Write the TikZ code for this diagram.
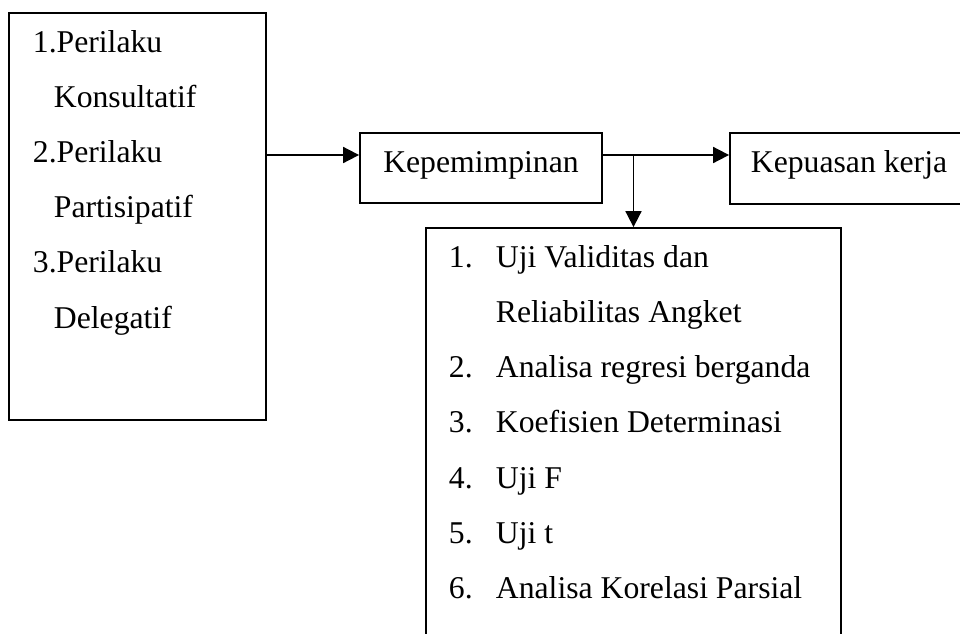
\documentclass[tikz,border=0pt]{standalone}
\usepackage{fontspec}
\setmainfont{Liberation Serif}
\usetikzlibrary{arrows.meta,fit}

\begin{document}
\begin{tikzpicture}[x=0.5pt, y=-0.5pt, line width=0.9pt,
		font=\fontsize{15.85}{19}\selectfont,
		box/.style={draw, rectangle, inner sep=0pt},
		txt/.style={anchor=base west, inner sep=0pt},
		arr/.style={-{Triangle[length=8pt, width=8pt]}}]
			\useasboundingbox (0,0) rectangle (960,633);
			\clip (0,0) rectangle (960,633);
			
			%left box
			\node[box, fit={(9,13) (266,420)}] (lft) {};
			\foreach \t/\x [count=\i] in {1.Perilaku/32, Konsultatif/53, 2.Perilaku/32, Partisipatif/53, 3.Perilaku/32, Delegatif/53}{
				\node[txt] (l\i) at (\x, {52+55.2*(\i-1)}) {\t};
			}
			
			%middle and right box
			\node[box, fit={(360,133) (602,203)}] (kep) {};
			\node[txt, anchor=base] (kepT) at (481,172) {Kepemimpinan};
			\node[box, fit={(730,133) (966,204)}] (kerja) {};
			\node[txt] (kerjaT) at (750,172) {Kepuasan kerja};
			
			%bottom box
			\node[box, fit={(426,228) (841,670)}] (uji) {};
			\foreach \n/\k in {1/0, 2/2, 3/3, 4/4, 5/5, 6/6}{
				\node[txt] (n\n) at (448, {267+55.3*\k}) {\n.};
			}
			\foreach \t [count=\i] in {Uji Validitas dan, Reliabilitas Angket, Analisa regresi berganda, Koefisien Determinasi, Uji F, Uji t, Analisa Korelasi Parsial}{
				\node[txt] (u\i) at (495, {267+55.3*(\i-1)}) {\t};
			}
			
			%arrows
			\coordinate (row) at (0,155);
			\draw[arr] (lft.east |- row) -- (kep.west |- row);
			\draw[arr] (kep.east |- row) -- (kerja.west |- row);
			\draw[arr] (uji.north |- row) -- (uji.north);
		\end{tikzpicture}
\end{document}
